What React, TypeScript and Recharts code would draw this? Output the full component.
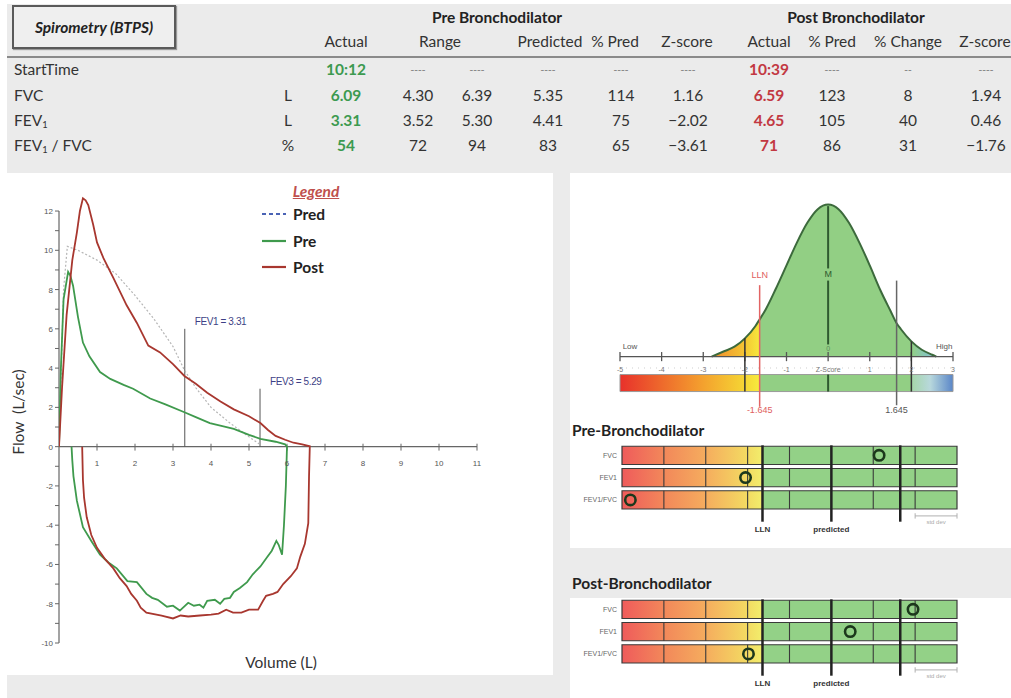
import React from 'react';
import {
  LineChart,
  Line,
  ComposedChart,
  Area,
  Scatter,
  XAxis,
  YAxis,
  ReferenceLine,
  ReferenceArea,
  ReferenceDot,
  Legend,
} from 'recharts';

const FONT = 'Lato, "Open Sans", "DejaVu Sans", sans-serif';
const NARROW = '"Liberation Sans Narrow", "Liberation Sans", Arial, sans-serif';
const PANEL_GRAY = '#ebebeb';
const PRE_GREEN = '#3f9a4d';
const POST_RED = '#a8372f';
const VALUE_GREEN = '#3c9a50';
const VALUE_RED = '#c23842';

// ---- summary table ----
const rowLabels = ['StartTime', 'FVC', 'FEV1', 'FEV1 / FVC'];
const rowUnits = ['', 'L', 'L', '%'];
const preActual = ['10:12', '6.09', '3.31', '54'];
const rangeLow = ['----', '4.30', '3.52', '72'];
const rangeHigh = ['----', '6.39', '5.30', '94'];
const predicted = ['----', '5.35', '4.41', '83'];
const prePctPred = ['----', '114', '75', '65'];
const preZ = ['----', '1.16', '\u22122.02', '\u22123.61'];
const postActual = ['10:39', '6.59', '4.65', '71'];
const postPctPred = ['----', '123', '105', '86'];
const pctChange = ['--', '8', '40', '31'];
const postZ = ['----', '1.94', '0.46', '\u22121.76'];
const columnHeaders = ['Actual', 'Range', 'Predicted', '% Pred', 'Z-score', 'Actual', '% Pred', '% Change', 'Z-score'];

// ---- flow-volume loop (volume L, flow L/sec) ----
const predCurve = [
  { v: 0, f: 0 }, { v: 0.12, f: 8 }, { v: 0.22, f: 10.2 }, { v: 0.5, f: 10.0 }, { v: 1.0, f: 9.5 },
  { v: 1.5, f: 8.8 }, { v: 2.0, f: 7.7 }, { v: 2.5, f: 6.5 }, { v: 3.0, f: 5.1 }, { v: 3.3, f: 3.9 },
  { v: 3.6, f: 3.0 }, { v: 4.0, f: 2.0 }, { v: 4.5, f: 1.2 }, { v: 5.0, f: 0.5 }, { v: 5.3, f: 0.1 },
];

const preLoop = [
  { v: 0, f: 0 }, { v: 0.05, f: 4 }, { v: 0.12, f: 7.5 }, { v: 0.24, f: 8.9 }, { v: 0.3, f: 8.7 },
  { v: 0.37, f: 8.2 }, { v: 0.5, f: 6.6 }, { v: 0.63, f: 5.3 }, { v: 0.8, f: 4.6 }, { v: 1.08, f: 3.8 },
  { v: 1.35, f: 3.45 }, { v: 1.7, f: 3.15 }, { v: 1.95, f: 2.95 }, { v: 2.4, f: 2.45 }, { v: 2.8, f: 2.15 },
  { v: 3.3, f: 1.75 }, { v: 3.6, f: 1.5 }, { v: 3.97, f: 1.2 }, { v: 4.3, f: 1.05 }, { v: 4.6, f: 0.9 },
  { v: 5.0, f: 0.6 }, { v: 5.3, f: 0.4 }, { v: 5.7, f: 0.25 }, { v: 5.95, f: 0.12 }, { v: 6.0, f: 0 },
  { v: 5.97, f: -2 }, { v: 5.92, f: -4 }, { v: 5.87, f: -5.5 }, { v: 5.78, f: -5.0 }, { v: 5.72, f: -4.8 },
  { v: 5.6, f: -5.3 }, { v: 5.47, f: -5.65 }, { v: 5.3, f: -6.1 }, { v: 5.1, f: -6.5 }, { v: 4.95, f: -6.9 },
  { v: 4.76, f: -7.2 }, { v: 4.6, f: -7.4 }, { v: 4.5, f: -7.7 }, { v: 4.35, f: -7.75 }, { v: 4.24, f: -8.0 },
  { v: 4.1, f: -7.8 }, { v: 3.9, f: -7.85 }, { v: 3.8, f: -8.2 }, { v: 3.7, f: -8.05 }, { v: 3.55, f: -8.1 },
  { v: 3.4, f: -7.95 }, { v: 3.18, f: -8.35 }, { v: 3.0, f: -8.1 }, { v: 2.84, f: -8.15 }, { v: 2.6, f: -7.8 },
  { v: 2.45, f: -7.7 }, { v: 2.3, f: -7.5 }, { v: 2.05, f: -6.9 }, { v: 1.8, f: -6.85 }, { v: 1.52, f: -6.2 },
  { v: 1.3, f: -5.9 }, { v: 1.08, f: -5.5 }, { v: 0.85, f: -4.8 }, { v: 0.63, f: -4.1 }, { v: 0.47, f: -2.75 },
  { v: 0.38, f: -1.5 }, { v: 0.35, f: -0.7 }, { v: 0.33, f: 0 },
];

const postLoop = [
  { v: 0, f: 0 }, { v: 0.08, f: 3 }, { v: 0.2, f: 6.7 }, { v: 0.35, f: 9.5 }, { v: 0.47, f: 10.9 },
  { v: 0.55, f: 12.0 }, { v: 0.63, f: 12.65 }, { v: 0.7, f: 12.55 }, { v: 0.77, f: 12.3 }, { v: 0.9, f: 11.3 },
  { v: 1.0, f: 10.4 }, { v: 1.17, f: 9.6 }, { v: 1.43, f: 8.6 }, { v: 1.78, f: 7.2 }, { v: 2.05, f: 6.3 },
  { v: 2.35, f: 5.15 }, { v: 2.66, f: 4.8 }, { v: 3.0, f: 4.2 }, { v: 3.3, f: 3.6 }, { v: 3.6, f: 3.2 },
  { v: 3.9, f: 2.75 }, { v: 4.25, f: 2.3 }, { v: 4.6, f: 1.9 }, { v: 5.0, f: 1.55 }, { v: 5.3, f: 1.2 },
  { v: 5.5, f: 0.85 }, { v: 5.7, f: 0.55 }, { v: 5.95, f: 0.35 }, { v: 6.17, f: 0.2 }, { v: 6.4, f: 0.12 },
  { v: 6.6, f: 0.02 }, { v: 6.58, f: -1.5 }, { v: 6.56, f: -3.9 }, { v: 6.47, f: -4.95 }, { v: 6.35, f: -5.6 },
  { v: 6.26, f: -6.2 }, { v: 6.1, f: -6.6 }, { v: 5.9, f: -7.0 }, { v: 5.75, f: -7.4 }, { v: 5.63, f: -7.5 },
  { v: 5.45, f: -7.6 }, { v: 5.37, f: -7.85 }, { v: 5.24, f: -8.3 }, { v: 5.0, f: -8.3 }, { v: 4.8, f: -8.45 },
  { v: 4.58, f: -8.45 }, { v: 4.4, f: -8.3 }, { v: 4.2, f: -8.5 }, { v: 4.0, f: -8.55 }, { v: 3.71, f: -8.6 },
  { v: 3.4, f: -8.65 }, { v: 3.2, f: -8.6 }, { v: 3.0, f: -8.75 }, { v: 2.7, f: -8.6 }, { v: 2.3, f: -8.45 },
  { v: 2.15, f: -8.2 }, { v: 2.05, f: -7.85 }, { v: 1.9, f: -7.5 }, { v: 1.78, f: -7.1 }, { v: 1.6, f: -6.7 },
  { v: 1.43, f: -6.2 }, { v: 1.2, f: -5.7 }, { v: 1.0, f: -5.15 }, { v: 0.85, f: -4.5 }, { v: 0.73, f: -3.6 },
  { v: 0.66, f: -2.6 }, { v: 0.63, f: -1.7 }, { v: 0.61, f: 0 },
];

const fevMarkers = [
  { v: 3.31, top: 6.0, label: 'FEV1 = 3.31' },
  { v: 5.29, top: 2.95, label: 'FEV3 = 5.29' },
];
const volumeTicks = [1, 2, 3, 4, 5, 6, 7, 8, 9, 10, 11];
const flowTicks = [-10, -9, -8, -7, -6, -5, -4, -3, -2, -1, 0, 1, 2, 3, 4, 5, 6, 7, 8, 9, 10, 11, 12];

const legendOrder = ['Pred', 'Pre', 'Post'];
const legendStyles: Record<string, { color: string; dash?: string }> = {
  Pred: { color: '#4a63b5', dash: '4 3' },
  Pre: { color: PRE_GREEN },
  Post: { color: POST_RED },
};

// ---- z-score bell curve ----
const bellZ = [-2.8, -2.5, -2.25, -2, -1.75, -1.645, -1.5, -1.25, -1, -0.75, -0.5, -0.25, 0, 0.25, 0.5, 0.75, 1, 1.25, 1.5, 1.645, 1.75, 2, 2.25, 2.5, 2.6];
const bellH = [0, 0.035, 0.065, 0.12, 0.2, 0.245, 0.31, 0.45, 0.6, 0.75, 0.88, 0.97, 1, 0.97, 0.88, 0.75, 0.6, 0.44, 0.3, 0.22, 0.18, 0.1, 0.045, 0.012, 0];
const zScaleTicks = [-5, -4, -3, -2, -1, 0, 1, 2, 3];
const zScaleLabels = ['-5', '-4', '-3', '-2', '-1', 'Z-Score', '1', '2', '3'];

const bellRows = bellZ.map((z, i) => ({
  z,
  all: bellH[i],
  low: z <= -1.645 ? bellH[i] : null,
  mid: z >= -1.645 && z <= 2 ? bellH[i] : null,
  high: z >= 2 ? bellH[i] : null,
}));

// ---- z-score bars ----
const zRowNames = ['FVC', 'FEV1', 'FEV1/FVC'];
const zRowIdx = [0, 1, 2];
const preZCircles = [{ z: 1.14, row: 0 }, { z: -2.05, row: 1 }, { z: -4.8, row: 2 }];
const postZCircles = [{ z: 1.95, row: 0 }, { z: 0.45, row: 1 }, { z: -1.98, row: 2 }];
const zThinDividers = [-4, -3, -2, -1, 1, 2];
const zHeavyLines = [-1.645, 0, 1.645];

function withSub(s: string) {
  const parts = s.split('FEV1');
  return parts.map((p, i) => (
    <React.Fragment key={i}>
      {i > 0 && (
        <>
          FEV<sub style={{ fontSize: '0.6em', verticalAlign: '-0.25em', lineHeight: 0 }}>1</sub>
        </>
      )}
      {p}
    </React.Fragment>
  ));
}

function Cell({ x, y, text, color, bold }: { x: number; y: number; text: string; color?: string; bold?: boolean }) {
  const dash = text === '----' || text === '--';
  return (
    <div
      style={{
        position: 'absolute',
        left: x - 50,
        top: y - 11,
        width: 100,
        height: 22,
        lineHeight: '22px',
        textAlign: 'center',
        fontSize: dash ? 10 : 15.5,
        color: dash ? '#8a8a8a' : color || '#333',
        fontWeight: bold || dash ? 700 : 400,
      }}
    >
      {text}
    </div>
  );
}

function SummaryTable() {
  const cols = [preActual, rangeLow, rangeHigh, predicted, prePctPred, preZ, postActual, postPctPred, pctChange, postZ];
  const colX = [346, 418, 477, 548, 621, 688, 769, 832, 908, 986];
  const headerX = [346, 440, 550, 615, 687, 769, 832, 908, 985];
  const rowY = [69, 95, 120, 145];
  return (
    <>
      <div
        style={{
          position: 'absolute',
          left: 12,
          top: 5,
          width: 160,
          height: 40,
          border: '2px solid #5a5a5a',
          boxShadow: '1px 1px 1px #999',
          background: '#efefef',
          display: 'flex',
          alignItems: 'center',
          justifyContent: 'center',
          fontWeight: 700,
          fontStyle: 'italic',
          fontSize: 15.5,
          color: '#222',
        }}
      >
        Spirometry (BTPS)
      </div>
      <div style={{ position: 'absolute', left: 397, top: 8, width: 200, textAlign: 'center', fontWeight: 700, fontSize: 15.5, color: '#222' }}>
        Pre Bronchodilator
      </div>
      <div style={{ position: 'absolute', left: 756, top: 8, width: 200, textAlign: 'center', fontWeight: 700, fontSize: 15.5, color: '#222' }}>
        Post Bronchodilator
      </div>
      {columnHeaders.map((h, i) => (
        <Cell key={'h' + i} x={headerX[i]} y={41} text={h} />
      ))}
      <div style={{ position: 'absolute', left: 7, top: 56, width: 1004, borderTop: '2px solid #8a8a8a' }} />
      {rowLabels.map((r, i) => (
        <div key={'r' + i} style={{ position: 'absolute', left: 14, top: rowY[i] - 11, height: 22, lineHeight: '22px', fontSize: 15.5, color: '#333' }}>
          {withSub(r)}
        </div>
      ))}
      {rowUnits.map((u, i) => (
        <Cell key={'u' + i} x={288} y={rowY[i]} text={u} />
      ))}
      {cols.map((vals, c) =>
        vals.map((v, r) => (
          <Cell
            key={`c${c}-${r}`}
            x={colX[c]}
            y={rowY[r]}
            text={v}
            color={c === 0 ? VALUE_GREEN : c === 6 ? VALUE_RED : undefined}
            bold={c === 0 || c === 6}
          />
        )),
      )}
    </>
  );
}

function FlowLegend(props: any) {
  const payload = [...(props.payload || [])].sort(
    (a: any, b: any) => legendOrder.indexOf(a.value) - legendOrder.indexOf(b.value),
  );
  return (
    <div style={{ fontFamily: FONT }}>
      <div style={{ textAlign: 'center', color: '#c0504d', fontStyle: 'italic', fontWeight: 700, textDecoration: 'underline', fontSize: 15.5, height: 20, lineHeight: '20px' }}>
        Legend
      </div>
      {payload.map((e: any) => {
        const st = legendStyles[e.value] || { color: e.color };
        return (
          <div key={e.value} style={{ display: 'flex', alignItems: 'center', height: 26.5, paddingLeft: 7 }}>
            <svg width={24} height={4}>
              <line x1={0} y1={2} x2={24} y2={2} stroke={st.color} strokeWidth={2.2} strokeDasharray={st.dash} />
            </svg>
            <span style={{ marginLeft: 7, fontWeight: 700, fontSize: 15.5, color: '#222' }}>{e.value}</span>
          </div>
        );
      })}
    </div>
  );
}

function FlowVolumeChart() {
  return (
    <div style={{ position: 'absolute', left: 7, top: 173 }}>
      <LineChart width={546} height={502} margin={{ top: 18.4, right: 76, bottom: 32, left: 22 }}>
        <XAxis type="number" dataKey="v" domain={[0, 11]} hide allowDataOverflow />
        <YAxis
          type="number"
          domain={[-10, 13]}
          ticks={flowTicks}
          interval={0}
          width={30}
          axisLine={false}
          tickSize={4}
          tickLine={{ stroke: '#666' }}
          tick={(p: any) =>
            p.payload.value % 2 === 0 ? (
              <text x={p.x} y={p.y} dy={3} textAnchor="end" fontSize={8} fill="#555" fontFamily="Arial, sans-serif">
                {p.payload.value}
              </text>
            ) : (
              <g />
            )
          }
        />
        <ReferenceLine segment={[{ x: 0, y: -10 }, { x: 0, y: 12 }]} stroke="#666" strokeWidth={1.2} />
        <ReferenceLine segment={[{ x: 0, y: 0 }, { x: 11, y: 0 }]} stroke="#666" strokeWidth={1.2} />
        {volumeTicks.map((t) => (
          <ReferenceLine key={'vt' + t} segment={[{ x: t, y: 0.15 }, { x: t, y: -0.2 }]} stroke="#666" />
        ))}
        {volumeTicks.map((t) => (
          <ReferenceDot
            key={'vl' + t}
            x={t}
            y={-0.82}
            r={0}
            fill="none"
            stroke="none"
            label={{ value: String(t), position: 'center', fontSize: 8, fill: '#555', fontFamily: 'Arial, sans-serif' }}
          />
        ))}
        {fevMarkers.map((m) => (
          <ReferenceLine key={m.label} segment={[{ x: m.v, y: 0 }, { x: m.v, y: m.top }]} stroke="#555" strokeWidth={1} />
        ))}
        {fevMarkers.map((m) => (
          <ReferenceDot
            key={'l' + m.label}
            x={m.v}
            y={m.top + 0.35}
            r={0}
            fill="none"
            stroke="none"
            label={(p: any) => (
              <text x={p.viewBox.x + 10} y={p.viewBox.y} dy={3} fontSize={10} fill="#3d3f86" fontFamily={NARROW} letterSpacing={-0.4}>
                {m.label}
              </text>
            )}
          />
        ))}
        <Line data={predCurve} dataKey="f" name="Pred" stroke="#b5b5b5" strokeWidth={1.2} strokeDasharray="2 2" dot={false} isAnimationActive={false} />
        <Line data={preLoop} dataKey="f" name="Pre" stroke={PRE_GREEN} strokeWidth={1.8} dot={false} isAnimationActive={false} />
        <Line data={postLoop} dataKey="f" name="Post" stroke={POST_RED} strokeWidth={1.8} dot={false} isAnimationActive={false} />
        <Legend layout="vertical" align="center" verticalAlign="middle" content={FlowLegend} wrapperStyle={{ left: 248, top: 8, width: 122, bottom: 'auto' }} />
      </LineChart>
    </div>
  );
}

function BellChart() {
  return (
    <div style={{ position: 'absolute', left: 570, top: 197 }}>
      <ComposedChart width={441} height={228} data={bellRows} margin={{ top: 0, right: 58, bottom: 0, left: 50 }}>
        <defs>
          <linearGradient id="bellLow" x1="0" y1="0" x2="1" y2="0">
            <stop offset="0" stopColor="#ef8a2e" />
            <stop offset="0.65" stopColor="#f4c232" />
            <stop offset="1" stopColor="#f6e83c" />
          </linearGradient>
          <linearGradient id="bellHigh" x1="0" y1="0" x2="1" y2="0">
            <stop offset="0" stopColor="#92cf84" />
            <stop offset="0.6" stopColor="#86c6bc" />
            <stop offset="1" stopColor="#a3c6e6" />
          </linearGradient>
          <linearGradient id="barWarm" x1="0" y1="0" x2="1" y2="0">
            <stop offset="0" stopColor="#e8312b" />
            <stop offset="0.3" stopColor="#ee6a2c" />
            <stop offset="0.6" stopColor="#f4a22e" />
            <stop offset="0.89" stopColor="#f5d534" />
            <stop offset="1" stopColor="#f7ec3e" />
          </linearGradient>
          <linearGradient id="barCool" x1="0" y1="0" x2="1" y2="0">
            <stop offset="0" stopColor="#a5d6a8" />
            <stop offset="0.45" stopColor="#b8d8dc" />
            <stop offset="1" stopColor="#5a86c8" />
          </linearGradient>
        </defs>
        <XAxis type="number" dataKey="z" domain={[-5, 3]} hide allowDataOverflow />
        <YAxis type="number" domain={[-0.45, 1.05]} hide allowDataOverflow />
        <Area type="monotone" dataKey="low" baseValue={0} fill="url(#bellLow)" fillOpacity={1} stroke="none" isAnimationActive={false} />
        <Area type="monotone" dataKey="mid" baseValue={0} fill="#92cf84" fillOpacity={1} stroke="none" isAnimationActive={false} />
        <Area type="monotone" dataKey="high" baseValue={0} fill="url(#bellHigh)" fillOpacity={1} stroke="none" isAnimationActive={false} />
        <Line type="monotone" dataKey="all" stroke="#3c6a3c" strokeWidth={2} dot={false} isAnimationActive={false} />
        <ReferenceArea x1={-5} x2={-1.645} y1={-0.23} y2={-0.118} fill="url(#barWarm)" fillOpacity={1} stroke="none" />
        <ReferenceArea x1={-1.645} x2={2} y1={-0.23} y2={-0.118} fill="#92cf84" fillOpacity={1} stroke="none" />
        <ReferenceArea x1={2} x2={3} y1={-0.23} y2={-0.118} fill="url(#barCool)" fillOpacity={1} stroke="none" />
        <ReferenceArea x1={-5} x2={3} y1={-0.23} y2={-0.118} fill="none" fillOpacity={0} stroke="#9a9a9a" strokeWidth={1} />
        <ReferenceLine segment={[{ x: -5, y: 0 }, { x: 3, y: 0 }]} stroke="#555" strokeWidth={1.3} />
        <ReferenceLine segment={[{ x: -5, y: -0.075 }, { x: 3, y: -0.075 }]} stroke="#cfcfcf" strokeDasharray="1 5" />
        {zScaleTicks.map((t) => (
          <ReferenceLine key={'bt' + t} segment={[{ x: t, y: 0.03 }, { x: t, y: -0.03 }]} stroke="#555" strokeWidth={1.3} />
        ))}
        {zScaleTicks.map((t, i) => (
          <ReferenceDot
            key={'bl' + t}
            x={t}
            y={-0.085}
            r={0}
            fill="none"
            stroke="none"
            label={{ value: zScaleLabels[i], position: 'center', fontSize: 7, fill: '#777', fontFamily: NARROW }}
          />
        ))}
        <ReferenceLine segment={[{ x: -2, y: 0.12 }, { x: -2, y: -0.23 }]} stroke="#333" strokeWidth={1.5} />
        <ReferenceLine segment={[{ x: 2, y: 0.1 }, { x: 2, y: -0.23 }]} stroke="#333" strokeWidth={1.5} />
        <ReferenceLine segment={[{ x: -1.645, y: 0.47 }, { x: -1.645, y: -0.33 }]} stroke="#e26464" strokeWidth={1.5} />
        <ReferenceLine segment={[{ x: 1.645, y: 0.5 }, { x: 1.645, y: -0.32 }]} stroke="#666" strokeWidth={1.5} />
        <ReferenceLine segment={[{ x: 0, y: 0.99 }, { x: 0, y: 0.58 }]} stroke="#2f5a2f" strokeWidth={2} />
        <ReferenceLine segment={[{ x: 0, y: 0.5 }, { x: 0, y: 0.08 }]} stroke="#2f5a2f" strokeWidth={2} />
        <ReferenceLine segment={[{ x: 0, y: -0.118 }, { x: 0, y: -0.23 }]} stroke="#2f5a2f" strokeWidth={2} />
        <ReferenceDot x={-4.76} y={0.07} r={0} fill="none" stroke="none" label={{ value: 'Low', position: 'center', fontSize: 8, fill: '#555', fontFamily: NARROW }} />
        <ReferenceDot x={2.79} y={0.07} r={0} fill="none" stroke="none" label={{ value: 'High', position: 'center', fontSize: 8, fill: '#555', fontFamily: NARROW }} />
        <ReferenceDot x={0} y={0.055} r={0} fill="none" stroke="none" label={{ value: '0', position: 'center', fontSize: 7, fill: '#5c8c5c', fontFamily: NARROW }} />
        <ReferenceDot x={-1.645} y={0.54} r={0} fill="none" stroke="none" label={{ value: 'LLN', position: 'center', fontSize: 9, fill: '#e06060', fontFamily: NARROW }} />
        <ReferenceDot x={0} y={0.545} r={0} fill="none" stroke="none" label={{ value: 'M', position: 'center', fontSize: 9, fill: '#2f5a2f', fontFamily: NARROW }} />
        <ReferenceDot x={-1.645} y={-0.35} r={0} fill="none" stroke="none" label={{ value: '-1.645', position: 'center', fontSize: 9, fill: '#e06060', fontFamily: NARROW }} />
        <ReferenceDot x={1.645} y={-0.35} r={0} fill="none" stroke="none" label={{ value: '1.645', position: 'center', fontSize: 9, fill: '#555', fontFamily: NARROW }} />
      </ComposedChart>
    </div>
  );
}

function ZScorePanel({ circles, top, id }: { circles: { z: number; row: number }[]; top: number; id: string }) {
  return (
    <div style={{ position: 'absolute', left: 570, top }}>
      <ComposedChart width={441} height={93.5} data={circles} margin={{ top: 0, right: 54, bottom: 0, left: 0 }}>
        <defs>
          <linearGradient id={`${id}-warm`} x1="0" y1="0" x2="1" y2="0">
            <stop offset="0" stopColor="#ef5b5b" />
            <stop offset="0.3" stopColor="#f2885a" />
            <stop offset="0.6" stopColor="#f5ad5e" />
            <stop offset="0.89" stopColor="#f3da62" />
            <stop offset="1" stopColor="#f2ee6c" />
          </linearGradient>
        </defs>
        <XAxis type="number" dataKey="z" domain={[-5, 3]} hide allowDataOverflow />
        <YAxis
          type="number"
          dataKey="row"
          domain={[-0.6, 3.6]}
          reversed
          allowDataOverflow
          ticks={zRowIdx}
          interval={0}
          width={52}
          axisLine={false}
          tickLine={false}
          tickSize={0}
          tickMargin={5}
          tick={(p: any) => (
            <text x={p.x} y={p.y} dy={2.5} textAnchor="end" fontSize={7} fill="#666" fontFamily={NARROW}>
              {zRowNames[p.payload.value]}
            </text>
          )}
        />
        {zRowIdx.map((i) => (
          <ReferenceArea key={'w' + i} x1={-5} x2={-1.645} y1={i - 0.41} y2={i + 0.41} fill={`url(#${id}-warm)`} fillOpacity={1} stroke="none" />
        ))}
        {zRowIdx.map((i) => (
          <ReferenceArea key={'g' + i} x1={-1.645} x2={3} y1={i - 0.41} y2={i + 0.41} fill="#93d187" fillOpacity={1} stroke="none" />
        ))}
        {zRowIdx.map((i) => (
          <ReferenceArea key={'b' + i} x1={-5} x2={3} y1={i - 0.41} y2={i + 0.41} fill="none" fillOpacity={0} stroke="#3a3a3a" strokeWidth={1.2} />
        ))}
        {zRowIdx.map((i) =>
          zThinDividers.map((d) => (
            <ReferenceLine key={`d${i}-${d}`} segment={[{ x: d, y: i - 0.41 }, { x: d, y: i + 0.41 }]} stroke="#3a3a3a" strokeWidth={1.1} />
          )),
        )}
        {zHeavyLines.map((h) => (
          <ReferenceLine key={'h' + h} segment={[{ x: h, y: -0.45 }, { x: h, y: 2.98 }]} stroke="#222" strokeWidth={2.5} />
        ))}
        <ReferenceDot x={-1.645} y={3.33} r={0} fill="none" stroke="none" label={{ value: 'LLN', position: 'center', fontSize: 8, fill: '#333', fontFamily: NARROW, fontWeight: 700 }} />
        <ReferenceDot x={0} y={3.33} r={0} fill="none" stroke="none" label={{ value: 'predicted', position: 'center', fontSize: 8, fill: '#333', fontFamily: NARROW, fontWeight: 700 }} />
        <ReferenceLine segment={[{ x: 2, y: 2.72 }, { x: 3, y: 2.72 }]} stroke="#b0b0b0" />
        <ReferenceLine segment={[{ x: 2, y: 2.6 }, { x: 2, y: 2.84 }]} stroke="#b0b0b0" />
        <ReferenceLine segment={[{ x: 3, y: 2.6 }, { x: 3, y: 2.84 }]} stroke="#b0b0b0" />
        <ReferenceDot x={2.5} y={3.0} r={0} fill="none" stroke="none" label={{ value: 'std dev', position: 'center', fontSize: 6, fill: '#aaa', fontFamily: NARROW }} />
        <Scatter
          dataKey="row"
          isAnimationActive={false}
          shape={(p: any) => <circle cx={p.cx} cy={p.cy} r={5.2} fill="none" stroke="#1c381c" strokeWidth={2.6} />}
        />
      </ComposedChart>
    </div>
  );
}

export default function App() {
  return (
    <div style={{ position: 'absolute', left: 0, top: 0, width: 1011, height: 698, background: '#fff', fontFamily: FONT, overflow: 'hidden' }}>
      <div style={{ position: 'absolute', left: 7, top: 4, width: 1004, height: 694, background: PANEL_GRAY }} />
      <div style={{ position: 'absolute', left: 0, top: 173, width: 553, height: 502, background: '#fff' }} />
      <div style={{ position: 'absolute', left: 570, top: 173, width: 441, height: 375, background: '#fff' }} />
      <div style={{ position: 'absolute', left: 570, top: 598, width: 441, height: 100, background: '#fff' }} />

      <SummaryTable />
      <FlowVolumeChart />
      <div style={{ position: 'absolute', left: 18 - 80, top: 412 - 11, width: 160, height: 22, lineHeight: '22px', textAlign: 'center', transform: 'rotate(-90deg)', fontSize: 15.5, color: '#333', whiteSpace: 'pre' }}>
        {'Flow  (L/sec)'}
      </div>
      <div style={{ position: 'absolute', left: 281 - 80, top: 662 - 11, width: 160, height: 22, lineHeight: '22px', textAlign: 'center', fontSize: 15.5, color: '#333' }}>
        Volume (L)
      </div>

      <BellChart />
      <div style={{ position: 'absolute', left: 572, top: 421, fontWeight: 700, fontSize: 15.5, color: '#222' }}>Pre-Bronchodilator</div>
      <ZScorePanel circles={preZCircles} top={442.2} id="pre" />
      <div style={{ position: 'absolute', left: 572, top: 574, fontWeight: 700, fontSize: 15.5, color: '#222' }}>Post-Bronchodilator</div>
      <ZScorePanel circles={postZCircles} top={595.5} id="post" />
    </div>
  );
}
